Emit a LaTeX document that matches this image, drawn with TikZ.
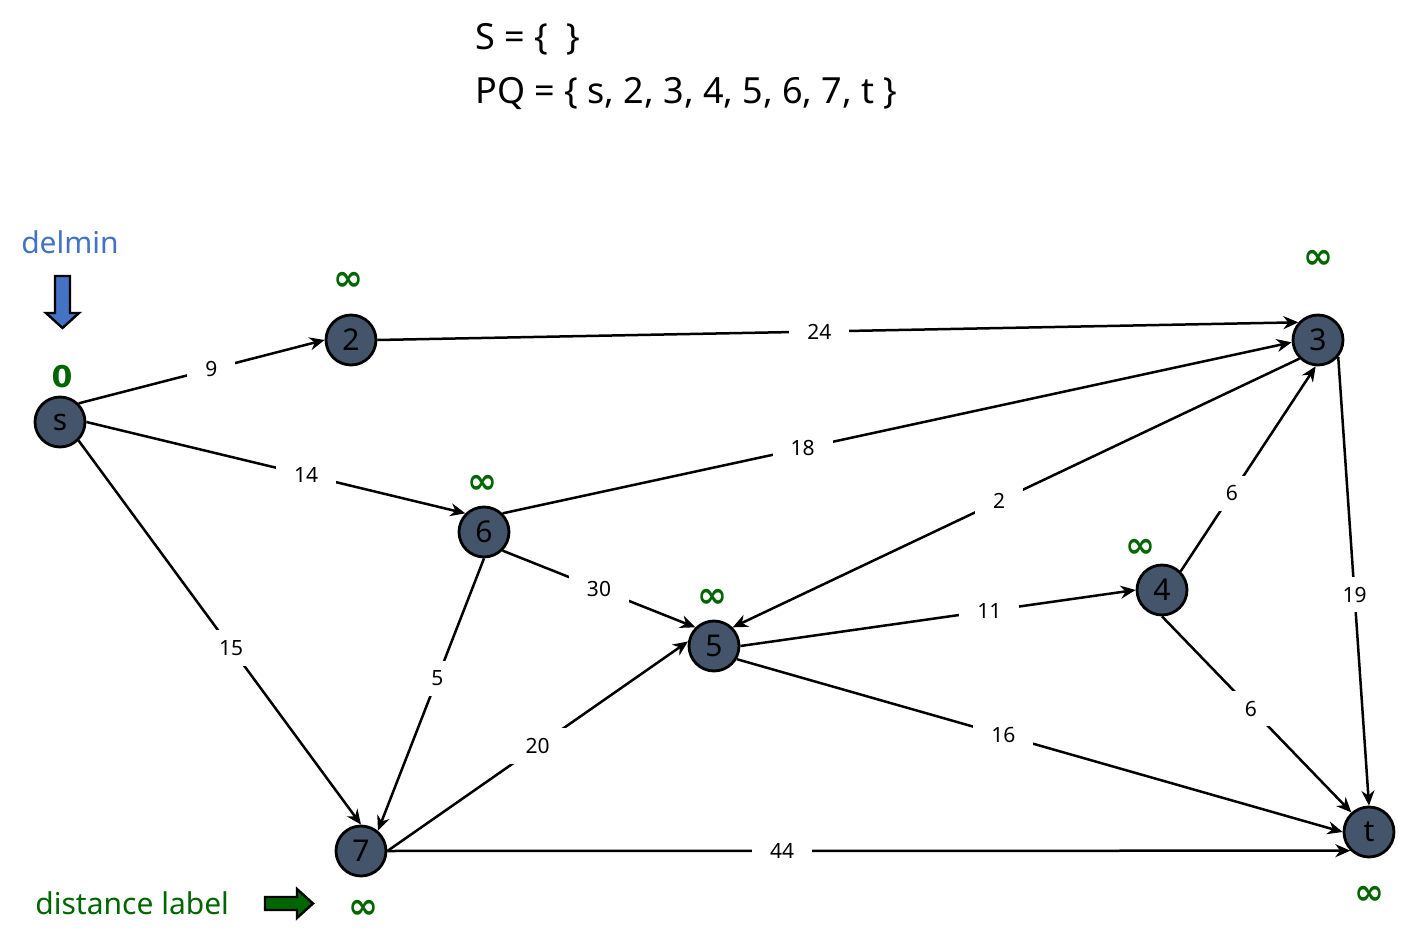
\documentclass[tikz,border=0pt]{standalone}
\usepackage{fontspec}
\setmainfont{Noto Sans}
\newfontfamily\symfont{DejaVu Sans}
\usetikzlibrary{arrows.meta}
\definecolor{nodefill}{HTML}{44546A}
\definecolor{dgreen}{HTML}{006600}
\definecolor{dblue}{HTML}{4472C4}
\tikzset{
  vtx/.style={circle, draw=black, line width=1.4pt, fill=nodefill, minimum size=25pt, inner sep=0pt, font=\fontsize{15}{15}\selectfont, text=black},
  edg/.style={line width=1.25pt, -{Stealth[length=7.5pt,width=6.5pt]}},
  lbl/.style={fill=white, inner xsep=9pt, inner ysep=5pt, font=\fontsize{10.5}{10.5}\selectfont, text=black},
  inf/.style={text=dgreen, font=\symfont\bfseries\fontsize{18}{18}\selectfont, inner sep=0pt},
  toptxt/.style={anchor=base west, inner sep=0pt, font=\fontsize{18}{18}\selectfont},
}
\begin{document}
\begin{tikzpicture}[x=0.5pt,y=-0.5pt]
\fill[white] (0,0) rectangle (1408,951);
\useasboundingbox (0,0) rectangle (1408,951);

% top text
\node[toptxt] (sset) at (475,50) {S = \{\ \ \}};
\node[toptxt] (pq) at (475,104) {PQ = \{ s, 2, 3, 4, 5, 6, 7, t \}};

% vertices
\node[vtx] (s) at (60,422) {s};
\node[vtx] (2) at (351,340) {2};
\node[vtx] (3) at (1318,340) {3};
\node[vtx] (6) at (484,532) {6};
\node[vtx] (5) at (714,646) {5};
\node[vtx] (4) at (1162,590) {4};
\node[vtx] (7) at (361,851) {7};
\node[vtx] (t) at (1369,832) {t};

% edges
\draw[edg] (s.45) -- node[lbl,pos=0.54] (l9) {9} (2.180);
\draw[edg] (2.0) -- node[lbl,pos=0.48] (l24) {24} (3.138);
\draw[edg] (s.0) -- node[lbl,pos=0.58] (l14) {14} (6.135);
\draw[edg] (s.-45) -- node[lbl,pos=0.54] (l15) {15} (7.90);
\draw[edg] (6.45) -- node[lbl,pos=0.38] (l18) {18} (3.185);
\draw[edg] (6.-45) -- node[lbl,pos=0.5] (l30) {30} (5.135);
\draw[edg] (6.270) -- node[lbl,pos=0.44] (l5) {5} (7.50);
\draw[edg] (7.0) -- node[lbl,pos=0.5] (l20) {20} (5.170);
\draw[edg] (7.0) -- node[lbl,pos=0.41] (l44) {44} (t.225);
\draw[edg] (5.0) -- node[lbl,pos=0.63] (l11) {11} (4.180);
\draw[edg] (5.-30) -- node[lbl,pos=0.44] (l16) {16} (t.180);
\draw[edg] (3.225) -- node[lbl,pos=0.53] (l2) {2} (5.45);
\draw[edg] (4.45) -- node[lbl,pos=0.38] (l6a) {6} (3.265);
\draw[edg] (4.270) -- node[lbl,pos=0.47] (l6b) {6} (t.132);
\draw[edg] (3.-40) -- node[lbl,pos=0.53] (l19) {19} (t.90);

% distance labels
\node[text=dgreen, font=\symfont\bfseries\fontsize{15}{15}\selectfont, inner sep=0pt] (d0) at (62,377) {0};
\node[inf] (i2) at (348,281) {∞};
\node[inf] (i3) at (1318,259) {∞};
\node[inf] (i6) at (482,484) {∞};
\node[inf] (i5) at (712,598) {∞};
\node[inf] (i4) at (1140,548) {∞};
\node[inf] (i7) at (363,909) {∞};
\node[inf] (it) at (1369,895) {∞};

% delmin
\node[text=dblue, font=\fontsize{15}{15}\selectfont, inner sep=0pt] (delmin) at (70,242) {delmin};
\draw[fill=dblue, line width=1.2pt, line join=miter]
  (55,276) -- (70,276) -- (70,313) -- (79,313) -- (62.5,328) -- (46,313) -- (55,313) -- cycle;

% distance label
\node[text=dgreen, font=\fontsize{15}{15}\selectfont, inner sep=0pt, anchor=west] (dl) at (35,903) {distance label};
\draw[fill=dgreen, line width=1.2pt, line join=miter]
  (265,897) -- (297,897) -- (297,889) -- (313,903.5) -- (297,918) -- (297,910) -- (265,910) -- cycle;
\end{tikzpicture}
\end{document}
